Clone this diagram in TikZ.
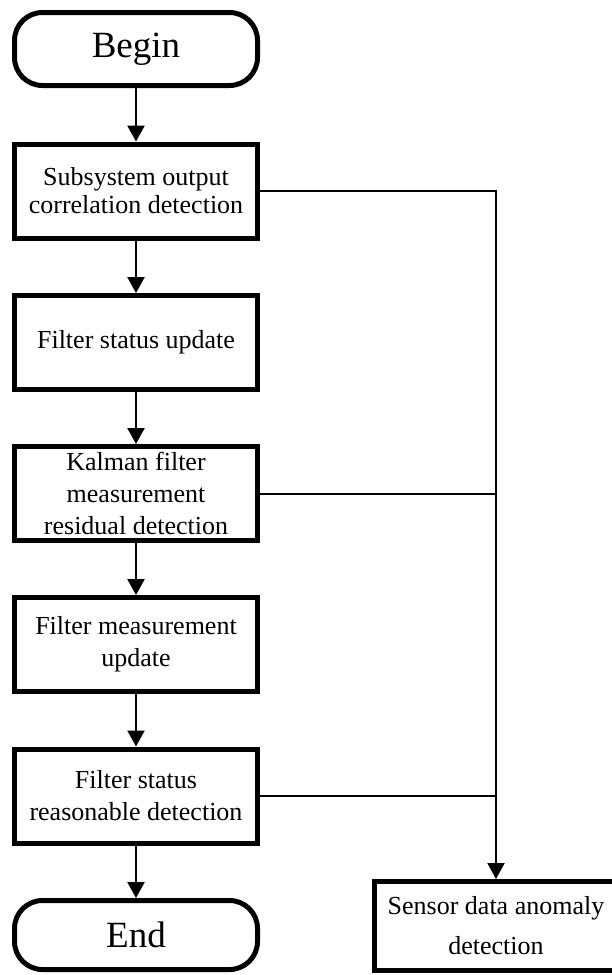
\documentclass[tikz,border=0pt]{standalone}
\usepackage{fontspec}
\setmainfont{Liberation Serif}
\usetikzlibrary{positioning, arrows.meta}
\tikzset{%
	>={Triangle[length=16pt, width=17pt]},
	flow/.style = {line width = 2.5pt},
	side/.style = {line width = 2pt},
	blk/.style = {name = #1, rectangle, draw, line width = 5pt, minimum width = 243pt, minimum height = 94pt, inner sep = 0pt, align = center, font = \fontsize{26}{32}\selectfont},
	term/.style = {blk = {#1}, rounded corners = 28pt, minimum height = 73pt, font = \fontsize{37}{40}\selectfont}
}
\begin{document}
\begin{tikzpicture}[x = 1pt, y = -1pt]
		\useasboundingbox (0,0) rectangle (612,975);
		\node [term = {begin}] at (136,49) {Begin};
		\node [blk = {corr}, font = \fontsize{26}{28}\selectfont] at (136,191) {Subsystem output\\correlation detection};
		\node [blk = {stat}] at (136,342.5) {Filter status update};
		\node [blk = {resid}] at (136,493.5) {Kalman filter\\measurement\\residual detection};
		\node [blk = {meas}] at (136,644.5) {Filter measurement\\update};
		\node [blk = {reas}] at (136,796) {Filter status\\reasonable detection};
		\node [term = {end}, minimum height = 69pt] at (136,935) {End};
		\node [blk = {sensor}, minimum height = 89pt, font = \fontsize{26}{40}\selectfont] at (496,926) {Sensor data anomaly\\detection};
		\coordinate (j3) at (resid.east -| sensor.north);
		\coordinate (j5) at (reas.east -| sensor.north);
		\path [->, flow] (begin) edge (corr);
		\path [->, flow] (corr) edge (stat);
		\path [->, flow] (stat) edge (resid);
		\path [->, flow] (resid) edge (meas);
		\path [->, flow] (meas) edge (reas);
		\path [->, flow] (reas) edge (end);
		\draw [->, side] (corr) -| (sensor);
		\draw [side] (resid) -- (j3);
		\draw [side] (reas) -- (j5);
		\end{tikzpicture}
\end{document}
